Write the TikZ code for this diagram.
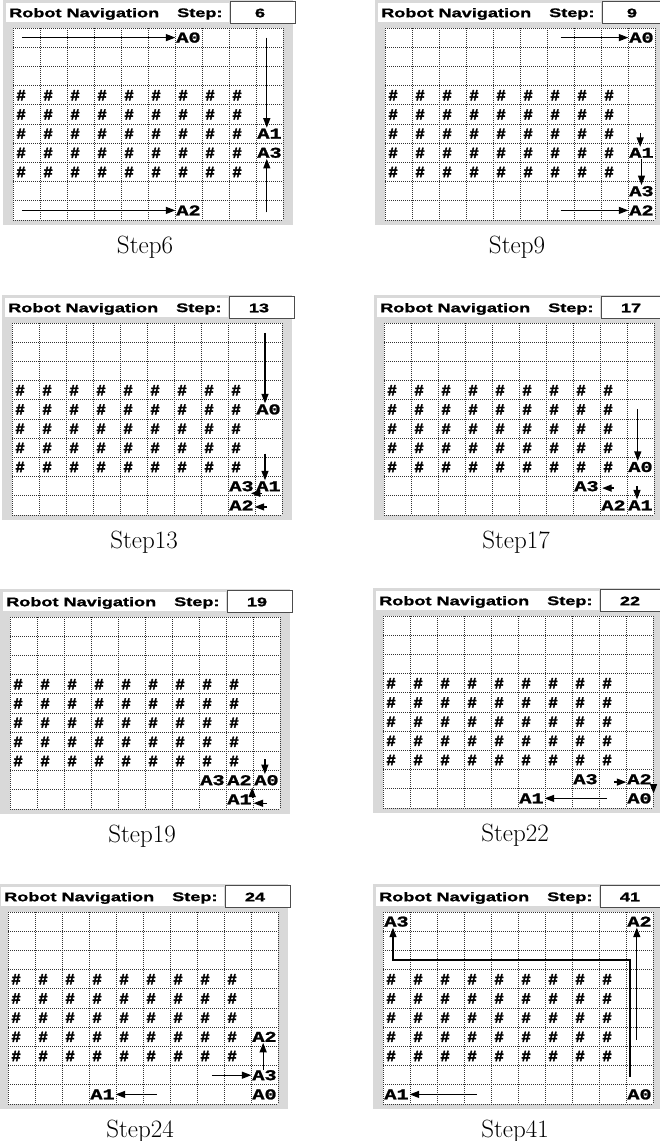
\documentclass[tikz,border=0pt]{standalone}
\usepackage{fontspec}
\usetikzlibrary{arrows.meta}

\newfontfamily\titlefont{Liberation Sans}[FakeStretch=1.45, FakeBold=1.2]
\newfontfamily\agentfont{Liberation Mono}[FakeStretch=1.35, FakeBold=1.5]
\newfontfamily\hashfont{Liberation Mono}[FakeBold=2.5]
\definecolor{panelgray}{gray}{0.85}

\tikzset{
  gridline/.style={black!80, line width=0.75pt, dash pattern=on 1pt off 1pt},
  navtitle/.style={font=\titlefont\bfseries\fontsize{12.5}{12.5}\selectfont, anchor=west, inner sep=0pt},
  stepnum/.style={font=\titlefont\bfseries\fontsize{12.5}{12.5}\selectfont, inner sep=0pt},
  stepbox/.style={fill=white, draw=black!70, line width=0.6pt},
  caption/.style={font=\fontsize{25}{25}\selectfont, inner sep=0pt},
  hashmark/.style={font=\hashfont\bfseries\fontsize{15.5}{15.5}\selectfont, inner sep=0pt},
  agent/.style={font=\agentfont\bfseries\fontsize{15}{15}\selectfont, fill=white, inner sep=0.8pt},
  trail/.style={-{Triangle[length=9.5pt,width=7pt]}, line width=1.3pt},
}

% one panel: grid corner (#1,#2) in pixels, step #3
\newcommand{\navpanel}[3]{%
  \begin{scope}[shift={(#1,#2)}]
    \fill[panelgray] (-10,-28) rectangle (280,197);
    \fill[white] (-7,-25) rectangle (216,-6);
    \node[navtitle] (title#3) at (-4,-14) {Robot Navigation};
    \node[navtitle] (steplbl#3) at (164,-14) {Step:};
    \draw[stepbox] (217,-27) rectangle (282,-5);
    \node[stepnum] (stepnum#3) at (247,-15) {#3};
    \node[caption] (cap#3) at (132,219) {Step#3};
  \end{scope}
  \begin{scope}[shift={(#1,#2)}, x=27pt, y=-19.2pt]
    \fill[white] (0,0) rectangle (10,10);
    \foreach \i in {0,...,10} {
      \draw[gridline] (\i,0) -- (\i,10);
      \draw[gridline] (0,\i) -- (10,\i);
    }
    % obstacles
    \foreach \r in {4,...,8}
      \foreach \c in {1,...,9}
        \node[hashmark] (hash#3-\c-\r) at (\c-0.7,\r-0.5) {\#};
  \end{scope}
}

\begin{document}
\begin{tikzpicture}[x=1pt, y=-1pt, cells/.style 2 args={shift={(#1,#2)}, x=27pt, y=-19.2pt}]
  \useasboundingbox (0,0) rectangle (659,1141);
  \fill[white] (0,0) rectangle (659,1141);

  % Step 6
  \navpanel{13}{28}{6}
  \begin{scope}[cells={13}{28}]
    \node[agent] (s6A0) at (6.5,0.5) {A0};
    \node[agent] (s6A1) at (9.5,5.5) {A1};
    \node[agent] (s6A3) at (9.5,6.5) {A3};
    \node[agent] (s6A2) at (6.5,9.5) {A2};
    \coordinate (s6p0) at (0.33,0.5);
    \coordinate (s6p1) at (9.4,0.5);
    \coordinate (s6p3) at (9.4,9.6);
    \coordinate (s6p2) at (0.33,9.5);
    \draw[trail] (s6p0) -- (s6A0);
    \draw[trail] (s6p1) -- (s6p1 |- s6A1.north);
    \draw[trail] (s6p3) -- (s6p3 |- s6A3.south);
    \draw[trail] (s6p2) -- (s6A2);
  \end{scope}

  % Step 9
  \navpanel{385}{28}{9}
  \begin{scope}[cells={385}{28}]
    \node[agent] (s9A0) at (9.5,0.5) {A0};
    \node[agent] (s9A1) at (9.5,6.5) {A1};
    \node[agent] (s9A3) at (9.5,8.5) {A3};
    \node[agent] (s9A2) at (9.5,9.5) {A2};
    \coordinate (s9p0) at (6.5,0.5);
    \coordinate (s9p1) at (9.45,5.45);
    \coordinate (s9p2) at (6.5,9.5);
    \draw[trail] (s9p0) -- (s9A0);
    \draw[trail] (s9p1) -- (s9p1 |- s9A1.north);
    \draw[trail] (s9A1) -- (s9A3);
    \draw[trail] (s9p2) -- (s9A2);
  \end{scope}

  % Step 13
  \navpanel{12}{323}{13}
  \begin{scope}[cells={12}{323}]
    \node[agent] (s13A0) at (9.5,4.5) {A0};
    \node[agent] (s13A3) at (8.5,8.5) {A3};
    \node[agent] (s13A1) at (9.5,8.5) {A1};
    \node[agent] (s13A2) at (8.5,9.5) {A2};
    \coordinate (s13p0) at (9.37,0.52);
    \coordinate (s13p1) at (9.37,6.8);
    \coordinate (s13h3) at (9.25,8.87);
    \coordinate (s13h3e) at (8.85,8.87);
    \coordinate (s13h2) at (9.45,9.58);
    \draw[trail] (s13p0) -- (s13p0 |- s13A0.north);
    \draw[trail] (s13p1) -- (s13p1 |- s13A1.north);
    \draw[trail] (s13h3) -- (s13h3e);
    \draw[trail] (s13h2) -- (s13h2 -| s13A2.east);
  \end{scope}

  % Step 17
  \navpanel{384}{323}{17}
  \begin{scope}[cells={384}{323}]
    \node[agent] (s17A0) at (9.5,7.5) {A0};
    \node[agent] (s17A3) at (7.5,8.5) {A3};
    \node[agent] (s17A2) at (8.5,9.5) {A2};
    \node[agent] (s17A1) at (9.5,9.5) {A1};
    \coordinate (s17p0) at (9.4,4.5);
    \coordinate (s17h3) at (8.5,8.6);
    \coordinate (s17h3e) at (8.08,8.6);
    \coordinate (s17h1) at (9.37,8.5);
    \draw[trail] (s17p0) -- (s17p0 |- s17A0.north);
    \draw[trail] (s17h3) -- (s17h3e);
    \draw[trail] (s17h1) -- (s17h1 |- s17A1.north);
  \end{scope}

  % Step 19
  \navpanel{10}{617}{19}
  \begin{scope}[cells={10}{617}]
    \node[agent] (s19A3) at (7.5,8.5) {A3};
    \node[agent] (s19A2) at (8.5,8.5) {A2};
    \node[agent] (s19A0) at (9.5,8.5) {A0};
    \node[agent] (s19A1) at (8.5,9.5) {A1};
    \coordinate (s19h0) at (9.44,7.4);
    \coordinate (s19h1) at (8.97,9.4);
    \coordinate (s19h1e) at (8.97,8.88);
    \coordinate (s19h2) at (9.5,9.7);
    \coordinate (s19h2e) at (9.02,9.7);
    \draw[trail] (s19h0) -- (s19h0 |- s19A0.north);
    \draw[trail] (s19h1) -- (s19h1e);
    \draw[trail] (s19h2) -- (s19h2e);
  \end{scope}

  % Step 22
  \navpanel{383}{616}{22}
  \begin{scope}[cells={383}{616}]
    \node[agent] (s22A3) at (7.5,8.5) {A3};
    \node[agent] (s22A2) at (9.5,8.5) {A2};
    \node[agent] (s22A1) at (5.5,9.5) {A1};
    \node[agent] (s22A0) at (9.5,9.5) {A0};
    \coordinate (s22h2) at (8.55,8.65);
    \coordinate (s22p1) at (8.3,9.5);
    \coordinate (s22h0) at (10.02,8.75);
    \coordinate (s22h0e) at (10.02,9.25);
    \draw[trail] (s22h2) -- (s22h2 -| s22A2.west);
    \draw[trail] (s22p1) -- (s22A1);
    \draw[trail] (s22h0) -- (s22h0e);
  \end{scope}

  % Step 24
  \navpanel{8}{912}{24}
  \begin{scope}[cells={8}{912}]
    \node[agent] (s24A2) at (9.5,6.5) {A2};
    \node[agent] (s24A3) at (9.5,8.5) {A3};
    \node[agent] (s24A1) at (3.5,9.5) {A1};
    \node[agent] (s24A0) at (9.5,9.5) {A0};
    \coordinate (s24p2) at (9.45,8.23);
    \coordinate (s24p3) at (7.55,8.5);
    \coordinate (s24p1) at (5.5,9.5);
    \draw[trail] (s24p2) -- (s24p2 |- s24A2.south);
    \draw[trail] (s24p3) -- (s24A3);
    \draw[trail] (s24p1) -- (s24A1);
  \end{scope}

  % Step 41
  \navpanel{383}{912}{41}
  \begin{scope}[cells={383}{912}]
    \node[agent] (s41A3) at (0.5,0.5) {A3};
    \node[agent] (s41A2) at (9.5,0.5) {A2};
    \node[agent] (s41A1) at (0.5,9.5) {A1};
    \node[agent] (s41A0) at (9.5,9.5) {A0};
    \coordinate (s41p3) at (9.15,8.6);
    \coordinate (s41k) at (0.37,2.5);
    \coordinate (s41p2) at (9.4,6.67);
    \coordinate (s41p1) at (3.48,9.5);
    \draw[trail] (s41p3) |- (s41k) -- (s41k |- s41A3.south);
    \draw[trail] (s41p2) -- (s41p2 |- s41A2.south);
    \draw[trail] (s41p1) -- (s41A1);
  \end{scope}
\end{tikzpicture}
\end{document}
